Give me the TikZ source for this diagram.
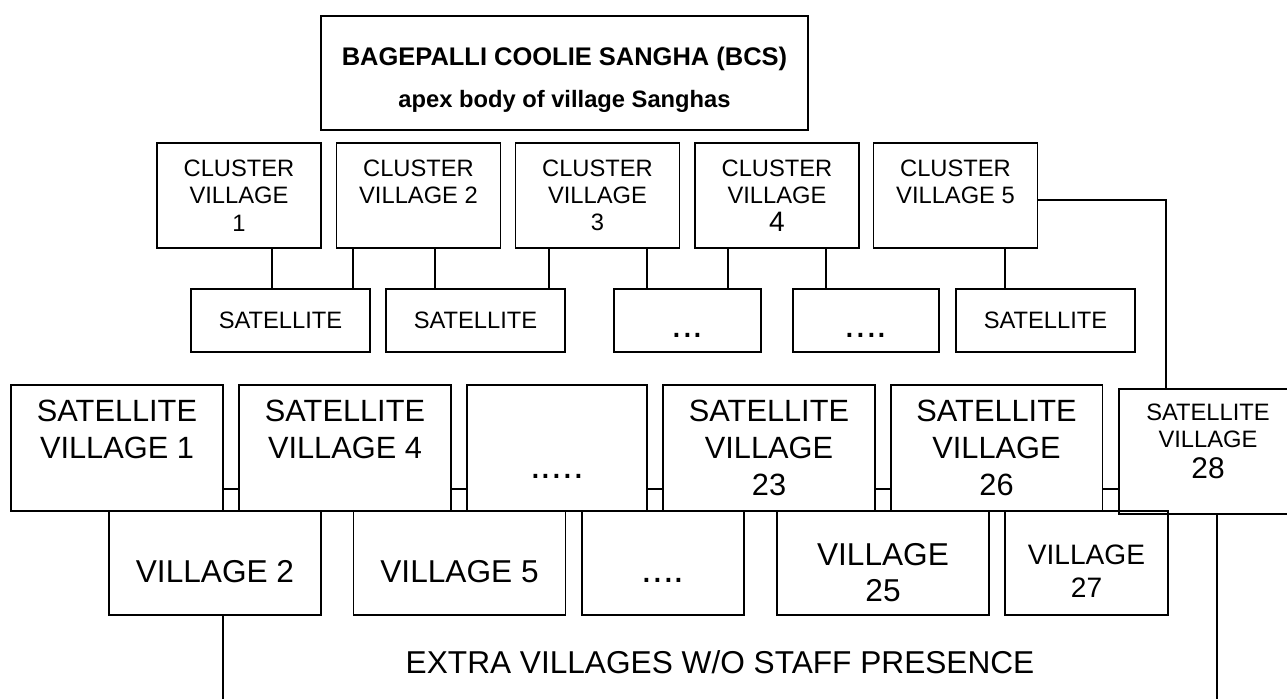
\documentclass[tikz,border=0pt]{standalone}
\usepackage{fontspec}
\setmainfont{Liberation Sans}
\usetikzlibrary{calc}
\tikzset{
  apexbox/.style={draw,line width=1.1pt,align=center,inner sep=0pt,
                  minimum width=9.74cm,minimum height=2.28cm,
                  text height=1.4cm,text depth=0pt,
                  font=\fontsize{14.5}{24}\selectfont\bfseries},
  clusterbox/.style={draw,line width=1.1pt,align=center,inner sep=0pt,
                     minimum width=3.28cm,minimum height=2.1cm,
                     font=\fontsize{13.5}{15.5}\selectfont},
  satbox/.style={draw,line width=1.1pt,align=center,inner sep=0pt,
                 minimum width=3.58cm,minimum height=1.26cm,
                 font=\fontsize{13.5}{15.5}\selectfont},
  bigbox/.style={draw,line width=1.1pt,align=center,inner sep=0pt,
                 minimum width=4.24cm,minimum height=2.52cm,
                 font=\fontsize{17.5}{21}\selectfont},
  villbox/.style={draw,line width=1.1pt,align=center,inner sep=0pt,
                  minimum width=4.24cm,minimum height=2.08cm,
                  text height=0.76cm,text depth=0pt,
                  font=\fontsize{18}{21}\selectfont},
  dots/.style={font=\fontsize{22}{24}\selectfont},
  link/.style={line width=1.1pt}
}

\begin{document}
\begin{tikzpicture}[x=0.02cm,y=-0.02cm]
  \useasboundingbox (0,0) rectangle (1287,699);

  % apex
  \node[apexbox] (bcs) at (564.5,73)
    {BAGEPALLI COOLIE SANGHA (BCS)\\{\fontsize{13.5}{24}\selectfont apex body of village Sanghas}};

  % cluster villages
  \node[clusterbox] (cv1) at (239,195.5) {CLUSTER\\VILLAGE\\1};
  \node[clusterbox] (cv2) at (418.5,195.5) {CLUSTER\\VILLAGE 2\\\mbox{}};
  \node[clusterbox] (cv3) at (597.5,195.5) {CLUSTER\\VILLAGE\\3};
  \node[clusterbox] (cv4) at (777,195.5) {CLUSTER\\VILLAGE\\{\fontsize{16}{15.5}\selectfont 4}};
  \node[clusterbox] (cv5) at (955.5,195.5) {CLUSTER\\VILLAGE 5\\\mbox{}};

  % satellites under the clusters
  \node[satbox] (s1) at (280.5,320.5) {SATELLITE};
  \node[satbox] (s2) at (475.5,320.5) {SATELLITE};
  \node[satbox,dots,minimum width=2.94cm,text height=0.7cm,text depth=0pt] (s3) at (687.5,320.5) {...};
  \node[satbox,dots,minimum width=2.92cm,text height=0.7cm,text depth=0pt] (s4) at (866,320.5) {....};
  \node[satbox] (s5) at (1045.5,320.5) {SATELLITE};

  % satellite villages
  \node[bigbox] (sv1) at (117,448) {SATELLITE\\VILLAGE 1\\\mbox{}};
  \node[bigbox] (sv4) at (345,448) {SATELLITE\\VILLAGE 4\\\mbox{}};
  \node[bigbox,dots,minimum width=3.6cm,text height=1.24cm,text depth=0pt] (svx) at (557,448) {.....};
  \node[bigbox] (sv23) at (769,448) {SATELLITE\\VILLAGE\\23};
  \node[bigbox] (sv26) at (996.5,448) {SATELLITE\\VILLAGE\\26};
  \node[bigbox,minimum width=3.56cm,minimum height=2.5cm,font=\fontsize{13.5}{15}\selectfont] (sv28) at (1208,451.5)
    {SATELLITE\\VILLAGE\\[3pt]{\fontsize{17}{19}\selectfont 28}\\[-3.6pt]\mbox{}};

  % villages
  \node[villbox] (v2) at (215,563) {VILLAGE 2};
  \node[villbox] (v5) at (459.5,563) {VILLAGE 5};
  \node[villbox,dots,minimum width=3.24cm] (vx) at (663,563) {....};
  \node[villbox,text height=1.56cm] (v25) at (883,563) {VILLAGE\\25};
  \node[villbox,minimum width=3.26cm,text height=1.4cm,font=\fontsize{16}{19}\selectfont] (v27) at (1086.5,563) {VILLAGE\\27};

  \node[font=\fontsize{18}{21}\selectfont] (extra) at (720,662) {EXTRA VILLAGES W/O STAFF PRESENCE};
  \coordinate (foot) at (0,699);

  % cluster -> satellite links
  \foreach \from/\dx/\to in {cv1/33/s1,cv2/-65.5/s1,cv2/16.5/s2,cv3/-48.5/s2,
                             cv3/49.5/s3,cv4/-49/s3,cv4/49/s4,cv5/49.5/s5} {
    \draw[link] ($(\from.south)+(\dx,0)$) coordinate (tmp) -- (tmp |- \to.north);
  }
  \draw[link] ($(cv5.east)+(0,4.5)$) -| ($(sv28.north west)+(48,0)$);

  % links along the satellite village row
  \foreach \a/\b in {sv1/sv4,sv4/svx,svx/sv23,sv23/sv26,sv26/sv28} {
    \draw[link] ($(\a.east)+(0,41)$) coordinate (tmp) -- (tmp -| \b.west);
  }

  % down to the extra villages
  \draw[link] ($(v2.south)+(8,0)$) coordinate (tmp) -- (tmp |- foot);
  \draw[link] ($(sv28.south)+(9,0)$) coordinate (tmp) -- (tmp |- foot);
\end{tikzpicture}
\end{document}
